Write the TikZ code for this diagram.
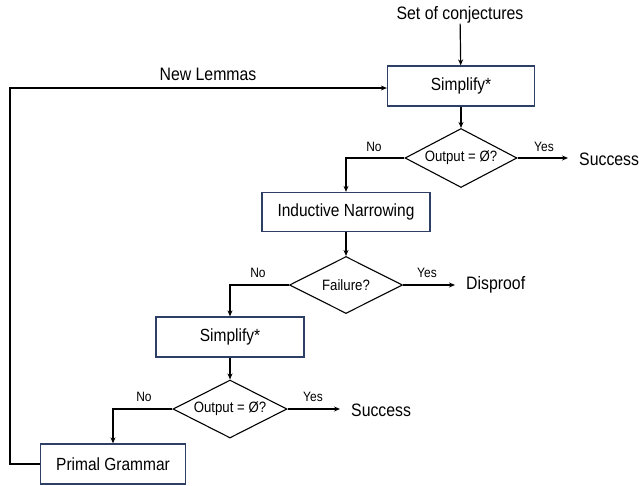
\documentclass[tikz,border=0pt]{standalone}
\usepackage{fontspec}
\setmainfont{Liberation Sans}[FakeStretch=0.88]
\usetikzlibrary{shapes.geometric,arrows.meta,calc}
\definecolor{navy}{HTML}{2E3F66}
\begin{document}
\begin{tikzpicture}[x=1pt,y=-1pt,
  box/.style={draw=navy,line width=1.3pt,inner sep=0pt,font=\fontsize{17.6}{20}\selectfont},
  dec/.style={diamond,draw=black,line width=1.1pt,inner sep=0pt,aspect=1.9,font=\fontsize{15}{17}\selectfont},
  lbl/.style={inner sep=0pt,font=\fontsize{13.6}{16}\selectfont},
  big/.style={inner sep=0pt,font=\fontsize{18}{21}\selectfont},
  arr/.style={line width=1.2pt,-{Stealth[length=6pt,width=5pt]}},
  ln/.style={line width=1.2pt}]
\useasboundingbox (0,0) rectangle (639,485);
\node[big] (conj) at (460,15) {Set of conjectures};
\node[box,minimum width=147pt,minimum height=40pt] (s1) at (461,86) {Simplify*};
\node[dec,minimum width=112pt,minimum height=59pt] (d1) at (461,158) {Output = Ø?};
\node[big,anchor=west] (succ1) at (568,159) {\hspace{11pt}Success};
\node[box,minimum width=168pt,minimum height=39pt] (in) at (346,212) {Inductive Narrowing};
\node[dec,minimum width=113pt,minimum height=57pt] (d2) at (346,285) {Failure?};
\node[big,anchor=west] (disp) at (455,285) {\hspace{11pt}Disproof};
\node[box,minimum width=148pt,minimum height=40pt] (s2) at (230,337) {Simplify*};
\node[dec,minimum width=114pt,minimum height=58pt] (d3) at (230,409) {Output = Ø?};
\node[big,anchor=west] (succ2) at (340,410) {\hspace{11pt}Success};
\node[box,minimum width=145pt,minimum height=40pt] (pg) at (113,464) {Primal Grammar};
\coordinate (c1) at (10,464);
\node[lbl] (y1) at (544,147) {Yes};
\node[lbl] (n1) at (374,147) {No};
\node[lbl] (y2) at (427,273) {Yes};
\node[lbl] (n2) at (258,273) {No};
\node[lbl] (y3) at (313,397) {Yes};
\node[lbl] (n3) at (144,397) {No};
\node[big] (nl) at (208,74) {New Lemmas};
\draw[arr] (conj) -- (s1);
\draw[arr] (s1) -- (d1);
\draw[arr] (d1.east) -- (d1.east -| succ1.west);
\draw[arr] (d1.west) -| (in);
\draw[arr] (in) -- (d2);
\draw[arr] (d2.east) -- (d2.east -| disp.west);
\draw[arr] (d2.west) -| (s2);
\draw[arr] (s2) -- (d3);
\draw[arr] (d3.east) -- (d3.east -| succ2.west);
\draw[arr] (d3.west) -| (pg);
\draw[arr] (pg.west) -- (c1) |- ($(s1.west)+(0,2)$);
\end{tikzpicture}
\end{document}
